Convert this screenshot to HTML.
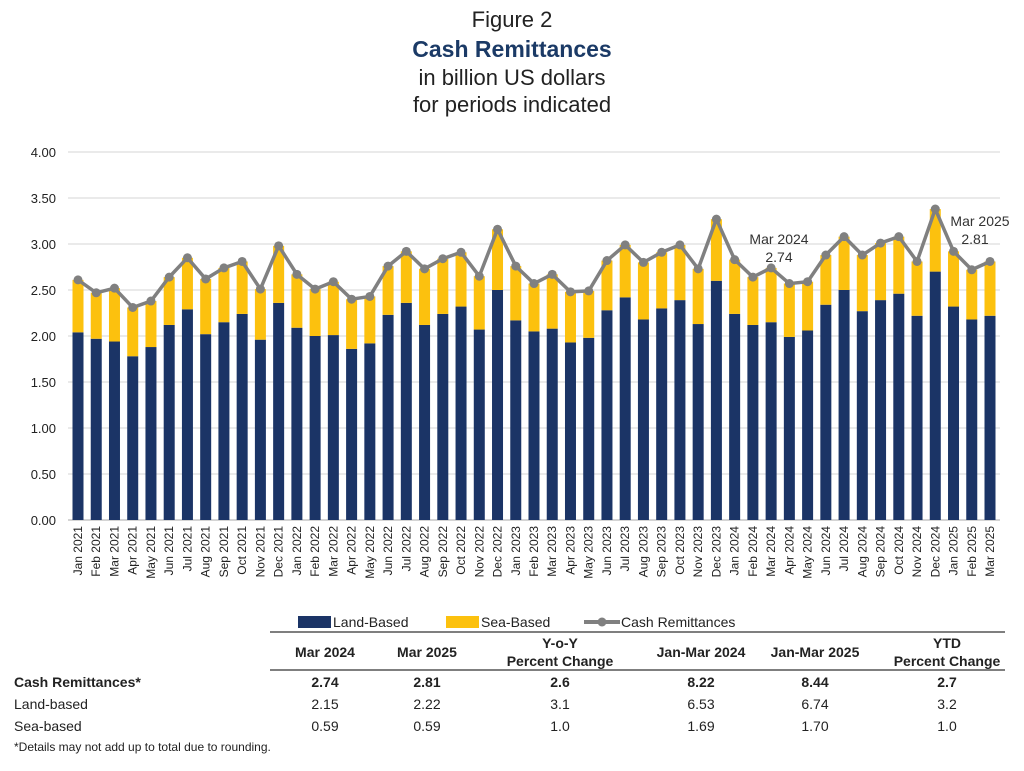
<!DOCTYPE html>
<html><head><meta charset="utf-8"><style>
body{margin:0;background:#fff;}
#wrap{position:relative;width:1024px;height:771px;overflow:hidden;font-family:"Liberation Sans",sans-serif;}
svg text{font-family:"Liberation Sans",sans-serif;}
.n{font-family:"Liberation Sans Narrow","Liberation Sans",sans-serif;}
</style></head><body>
<div id="wrap">
<svg id="chart" width="1024" height="771">
<g>
<text x="512" y="27" text-anchor="middle" font-size="22" fill="#222">Figure 2</text>
<text x="512" y="57" text-anchor="middle" font-size="23" font-weight="bold" fill="#1b3a66">Cash Remittances</text>
<text x="512" y="85" text-anchor="middle" font-size="22" fill="#222">in billion US dollars</text>
<text x="512" y="112" text-anchor="middle" font-size="22" fill="#222">for periods indicated</text>
</g>
<g id="grid"></g><g id="bars"></g><g id="line"></g><g id="xlabels"></g>
<g>
<text x="779" y="244" text-anchor="middle" font-size="14" fill="#333">Mar 2024</text>
<text x="779" y="262" text-anchor="middle" font-size="14" fill="#333">2.74</text>
<text x="980" y="226" text-anchor="middle" font-size="14" fill="#333">Mar 2025</text>
<text x="975" y="244" text-anchor="middle" font-size="14" fill="#333">2.81</text>
</g>
<g>
<rect x="298" y="616" width="33" height="12" fill="#1b3466"/>
<text x="333" y="627" class="n" font-size="14" fill="#222">Land-Based</text>
<rect x="446" y="616" width="33" height="12" fill="#fcc10e"/>
<text x="481" y="627" class="n" font-size="14" fill="#222">Sea-Based</text>
<line x1="584" y1="622" x2="620" y2="622" stroke="#808080" stroke-width="4"/>
<circle cx="602" cy="622" r="4.5" fill="#808080"/>
<text x="621" y="627" class="n" font-size="14" fill="#222">Cash Remittances</text>
</g>
<g class="n" font-size="14" fill="#222">
<line x1="270" y1="632" x2="1005" y2="632" stroke="#555" stroke-width="1.5"/>
<line x1="270" y1="670" x2="1005" y2="670" stroke="#555" stroke-width="1.5"/>
<g font-weight="bold" text-anchor="middle">
<text x="325" y="657">Mar 2024</text>
<text x="427" y="657">Mar 2025</text>
<text x="560" y="648">Y-o-Y</text>
<text x="560" y="666">Percent Change</text>
<text x="701" y="657">Jan-Mar 2024</text>
<text x="815" y="657">Jan-Mar 2025</text>
<text x="947" y="648">YTD</text>
<text x="947" y="666">Percent Change</text>
</g>
<g font-weight="bold">
<text x="14" y="687">Cash Remittances*</text>
<g text-anchor="middle"><text x="325" y="687">2.74</text><text x="427" y="687">2.81</text><text x="560" y="687">2.6</text><text x="701" y="687">8.22</text><text x="815" y="687">8.44</text><text x="947" y="687">2.7</text></g>
</g>
<g>
<text x="14" y="709">Land-based</text>
<g text-anchor="middle"><text x="325" y="709">2.15</text><text x="427" y="709">2.22</text><text x="560" y="709">3.1</text><text x="701" y="709">6.53</text><text x="815" y="709">6.74</text><text x="947" y="709">3.2</text></g>
</g>
<g>
<text x="14" y="731">Sea-based</text>
<g text-anchor="middle"><text x="325" y="731">0.59</text><text x="427" y="731">0.59</text><text x="560" y="731">1.0</text><text x="701" y="731">1.69</text><text x="815" y="731">1.70</text><text x="947" y="731">1.0</text></g>
</g>
<text x="14" y="751" font-size="12">*Details may not add up to total due to rounding.</text>
</g>
</svg>
</div>
<script>
const months = ["Jan 2021","Feb 2021","Mar 2021","Apr 2021","May 2021","Jun 2021","Jul 2021","Aug 2021","Sep 2021","Oct 2021","Nov 2021","Dec 2021","Jan 2022","Feb 2022","Mar 2022","Apr 2022","May 2022","Jun 2022","Jul 2022","Aug 2022","Sep 2022","Oct 2022","Nov 2022","Dec 2022","Jan 2023","Feb 2023","Mar 2023","Apr 2023","May 2023","Jun 2023","Jul 2023","Aug 2023","Sep 2023","Oct 2023","Nov 2023","Dec 2023","Jan 2024","Feb 2024","Mar 2024","Apr 2024","May 2024","Jun 2024","Jul 2024","Aug 2024","Sep 2024","Oct 2024","Nov 2024","Dec 2024","Jan 2025","Feb 2025","Mar 2025"];
const landBased = [2.04,1.97,1.94,1.78,1.88,2.12,2.29,2.02,2.15,2.24,1.96,2.36,2.09,2.00,2.01,1.86,1.92,2.23,2.36,2.12,2.24,2.32,2.07,2.50,2.17,2.05,2.08,1.93,1.98,2.28,2.42,2.18,2.30,2.39,2.13,2.60,2.24,2.12,2.15,1.99,2.06,2.34,2.50,2.27,2.39,2.46,2.22,2.70,2.32,2.18,2.22];
const cashTotal = [2.61,2.47,2.52,2.31,2.38,2.64,2.85,2.62,2.74,2.81,2.51,2.98,2.67,2.51,2.59,2.40,2.43,2.76,2.92,2.73,2.84,2.91,2.65,3.16,2.76,2.57,2.67,2.48,2.49,2.82,2.99,2.80,2.91,2.99,2.73,3.27,2.83,2.64,2.74,2.57,2.59,2.88,3.08,2.88,3.01,3.08,2.81,3.38,2.92,2.72,2.81];
const yTicks = [0,0.5,1,1.5,2,2.5,3,3.5,4];
const NS="http://www.w3.org/2000/svg";
const x0=78, x1=990, yBase=520, yPer=92;
function xs(i){return x0+i*(x1-x0)/(months.length-1);}
function ys(v){return yBase-v*yPer;}
function mk(tag,attrs,parent){const e=document.createElementNS(NS,tag);for(const k in attrs)e.setAttribute(k,attrs[k]);parent.appendChild(e);return e;}
const grid=document.getElementById('grid'),bars=document.getElementById('bars'),line=document.getElementById('line'),xl=document.getElementById('xlabels');
yTicks.forEach(t=>{
  const l=mk('line',{x1:68,x2:1000,y1:ys(t),y2:ys(t),stroke:t===0?'#bbb':'#ddd','stroke-width':1.2},grid);
  
  
  const tx=mk('text',{x:56,y:ys(t)+5,'text-anchor':'end','font-size':13,fill:'#222'},grid);
  tx.textContent=t.toFixed(2);
  
  
});
const bw=11;
months.forEach((m,i)=>{
  const x=xs(i);
  const land=landBased[i], sea=cashTotal[i]-landBased[i];
  const r1=mk('rect',{x:x-bw/2,y:ys(land),width:bw,height:land*yPer,fill:'#1b3466'},bars);
  
  
  const r2=mk('rect',{x:x-bw/2,y:ys(land+sea),width:bw,height:sea*yPer,fill:'#fcc10e'},bars);
  
  
  const t=mk('text',{x:0,y:0,'text-anchor':'end','font-size':12,fill:'#222',transform:`translate(${x+4},526) rotate(-90)`},xl);
  t.textContent=m;
  
  
});
const pts=cashTotal.map((v,i)=>xs(i)+','+ys(v)).join(' ');
const pl=mk('polyline',{points:pts,fill:'none',stroke:'#808080','stroke-width':3.5,'stroke-linejoin':'round'},line);


cashTotal.forEach((v,i)=>{
  const c=mk('circle',{cx:xs(i),cy:ys(v),r:4.5,fill:'#808080'},line);
  
  
});
</script>
</body></html>
